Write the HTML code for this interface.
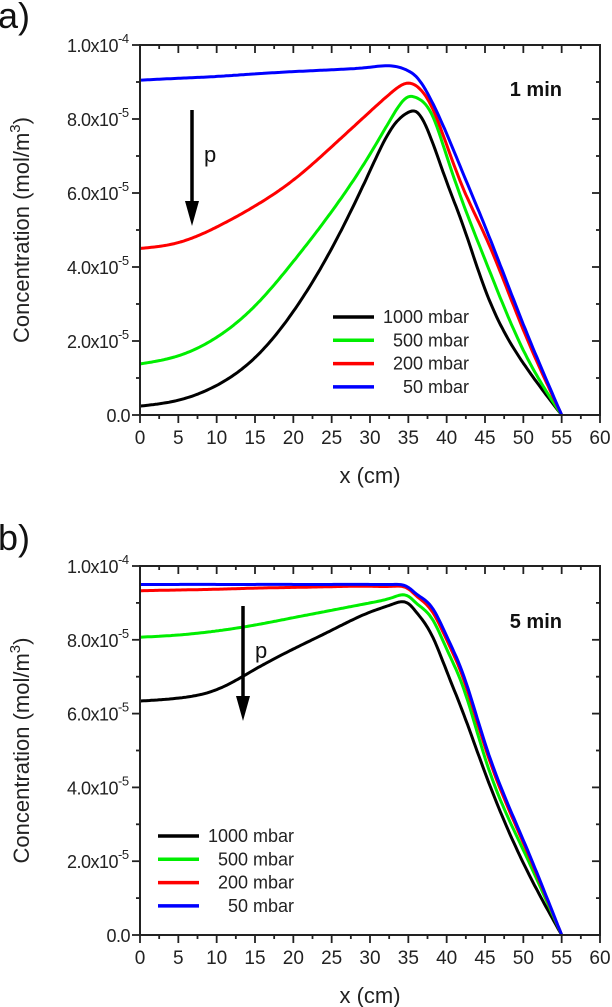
<!DOCTYPE html>
<html><head><meta charset="utf-8">
<style>
html,body{margin:0;padding:0;background:#fff;}
svg{display:block;font-family:"Liberation Sans",Arial,sans-serif;}
</style></head>
<body>
<svg id="fig" width="612" height="1007" viewBox="0 0 612 1007" xmlns="http://www.w3.org/2000/svg"></svg>
<script>
const xValues = [0,5,10,15,20,25,30,33,35,36,38,40,42,45,50,55];
const seriesLabels = ["1000 mbar","500 mbar","200 mbar","50 mbar"];
const seriesColors = ["#000000","#00ee00","#ff0000","#0000ff"];
const xTicks = [0,5,10,15,20,25,30,35,40,45,50,55,60];
const yTicks = [0,2,4,6,8,10];
const yTickLabels = ["0.0","2.0x10","4.0x10","6.0x10","8.0x10","1.0x10"];
const yTickExps = ["","-5","-5","-5","-5","-4"];
// panel a (1 min), units 1e-5 mol/m3
const a1000 = [0.24,0.4,0.8,1.55,2.8,4.5,6.6,7.8,8.18,8.2,7.45,6.3,5.2,3.4,1.4,0];
const a500  = [1.38,1.6,2.1,2.95,4.15,5.5,7.05,8.1,8.6,8.58,8.15,7.0,5.8,4.2,1.75,0];
const a200  = [4.5,4.66,5.08,5.65,6.35,7.25,8.2,8.75,8.97,8.9,8.35,7.3,6.2,4.85,2.3,0];
const a50   = [9.05,9.1,9.15,9.22,9.28,9.33,9.4,9.43,9.3,9.15,8.5,7.6,6.6,5.1,2.45,0];
// panel b (5 min)
const b1000 = [6.34,6.42,6.65,7.2,7.75,8.26,8.75,8.97,8.98,8.76,8.15,7.15,6.1,4.4,1.95,0];
const b500  = [8.07,8.13,8.24,8.4,8.6,8.8,9.0,9.15,9.18,9.0,8.6,7.75,6.8,4.8,2.3,0];
const b200  = [9.33,9.35,9.37,9.4,9.42,9.44,9.45,9.45,9.38,9.2,8.8,8.0,7.05,5.1,2.5,0];
const b50   = [9.5,9.5,9.5,9.5,9.5,9.5,9.5,9.5,9.42,9.25,8.9,8.1,7.15,5.2,2.57,0];

const NS="http://www.w3.org/2000/svg";
const svg=document.getElementById('fig');
function mk(tag,attrs,parent){const e=document.createElementNS(NS,tag);for(const k in attrs)e.setAttribute(k,attrs[k]);(parent||svg).appendChild(e);return e;}

function splineFn(xs,ys){
  const n=xs.length,h=[],a=[],l=[1],mu=[0],z=[0],c=new Array(n).fill(0),b=[],d=[];
  for(let i=0;i<n-1;i++)h[i]=xs[i+1]-xs[i];
  for(let i=1;i<n-1;i++)a[i]=3/h[i]*(ys[i+1]-ys[i])-3/h[i-1]*(ys[i]-ys[i-1]);
  for(let i=1;i<n-1;i++){l[i]=2*(xs[i+1]-xs[i-1])-h[i-1]*mu[i-1];mu[i]=h[i]/l[i];z[i]=(a[i]-h[i-1]*z[i-1])/l[i];}
  l[n-1]=1;z[n-1]=0;c[n-1]=0;
  for(let j=n-2;j>=0;j--){c[j]=z[j]-mu[j]*c[j+1];b[j]=(ys[j+1]-ys[j])/h[j]-h[j]*(c[j+1]+2*c[j])/3;d[j]=(c[j+1]-c[j])/(3*h[j]);}
  return x=>{let i=0;while(i<n-2&&x>xs[i+1])i++;const t=x-xs[i];return ys[i]+b[i]*t+c[i]*t*t+d[i]*t*t*t;};
}

function panel(cfg){
  const L=140,R=600,T=cfg.top,B=cfg.bottom;
  const sx=v=>L+(v/60)*(R-L);
  const sy=v=>B-(v/10)*(B-T);
  const g=mk('g',{});
  
  
  cfg.series.forEach((ys,i)=>{
    const f=splineFn(xValues,ys);
    let d='';
    const xmax=xValues[xValues.length-1];
    for(let x=0;x<=xmax+1e-9;x+=0.25){d+=(d?'L':'M')+sx(x).toFixed(1)+','+sy(Math.max(0,f(x))).toFixed(1);}
    const p=mk('path',{d:d,fill:'none',stroke:seriesColors[i],'stroke-width':3,'stroke-linejoin':'round'},g);
    
    
  });
  const fr=mk('rect',{x:L,y:T,width:R-L,height:B-T,fill:'none',stroke:'#222','stroke-width':2},g);
  
  
  for(let v=0;v<=60;v+=2.5){
    const major=v%5===0;const len=major?8:4;
    mk('line',{x1:sx(v),x2:sx(v),y1:B,y2:B+len,stroke:'#222','stroke-width':1.8},g);
    mk('line',{x1:sx(v),x2:sx(v),y1:T,y2:T+len,stroke:'#222','stroke-width':1.8},g);
  }
  xTicks.forEach(v=>{
    const t=mk('text',{x:sx(v),y:B+29,'font-size':19,'text-anchor':'middle',fill:'#222'},g);
    t.textContent=v;
    
    
  });
  for(let v=0;v<=10;v+=1){
    const major=v%2===0;const len=major?8:4;
    mk('line',{x1:L,x2:L-len,y1:sy(v),y2:sy(v),stroke:'#222','stroke-width':1.8},g);
    mk('line',{x1:R,x2:R-len,y1:sy(v),y2:sy(v),stroke:'#222','stroke-width':1.8},g);
  }
  yTicks.forEach((v,i)=>{
    const t=mk('text',{x:v===0?130:118,y:sy(v)+7,'font-size':18,'text-anchor':'end',fill:'#222','letter-spacing':'-0.5'},g);
    
    
    t.textContent=yTickLabels[i];
    if(yTickExps[i]){
      const s=mk('tspan',{x:118,dy:-9,'font-size':13,'text-anchor':'start'},t);s.textContent=yTickExps[i];
    }
  });
  const xt=mk('text',{x:370,y:B+68,'font-size':22,'text-anchor':'middle',fill:'#222'},g);
  xt.textContent='x (cm)';
  
  
  const yc=(T+B)/2;
  const yt=mk('text',{x:29,y:yc,'font-size':22,'text-anchor':'middle',fill:'#222',transform:`rotate(-90 29 ${yc})`},g);
  yt.textContent='Concentration (mol/m';
  const sup=mk('tspan',{dy:-9,'font-size':15},yt);sup.textContent='3';
  const cl=mk('tspan',{dy:9},yt);cl.textContent=')';
  
  
  const pl=mk('text',{x:-2,y:cfg.labelY,'font-size':36,fill:'#111'},g);
  pl.textContent=cfg.label;
  
  
  const tl=mk('text',{x:562,y:cfg.timeY,'font-size':20,'font-weight':'bold','text-anchor':'end',fill:'#111'},g);
  tl.textContent=cfg.time;
  
  
  const ax=cfg.arrowX;
  mk('line',{x1:ax,x2:ax,y1:cfg.arrowY1,y2:cfg.arrowY2-20,stroke:'#000','stroke-width':3.5},g);
  const ah=mk('polygon',{points:`${ax-7},${cfg.arrowY2-25} ${ax+7},${cfg.arrowY2-25} ${ax},${cfg.arrowY2}`,fill:'#000'},g);
  
  
  const pt=mk('text',{x:ax+12,y:cfg.arrowY1+52,'font-size':22,fill:'#111'},g);
  pt.textContent='p';
  
  
  seriesLabels.forEach((lab,i)=>{
    const y=cfg.legY+i*23.3;
    const ln=mk('line',{x1:cfg.legX,x2:cfg.legX+41,y1:y,y2:y,stroke:seriesColors[i],'stroke-width':3.5},g);
    
    
    const t=mk('text',{x:cfg.legX+136,y:y+6,'font-size':18,'text-anchor':'end',fill:'#222'},g);
    t.textContent=lab;
    
    
  });
}

panel({name:'panel-a',top:45,bottom:415,series:[a1000,a500,a200,a50],label:'a)',labelY:28,time:'1 min',timeY:96,
  arrowX:192,arrowY1:110,arrowY2:226,legX:333,legY:317});
panel({name:'panel-b',top:566,bottom:935,series:[b1000,b500,b200,b50],label:'b)',labelY:550,time:'5 min',timeY:628,
  arrowX:243,arrowY1:606,arrowY2:721,legX:158,legY:836});
</script>
</body></html>
